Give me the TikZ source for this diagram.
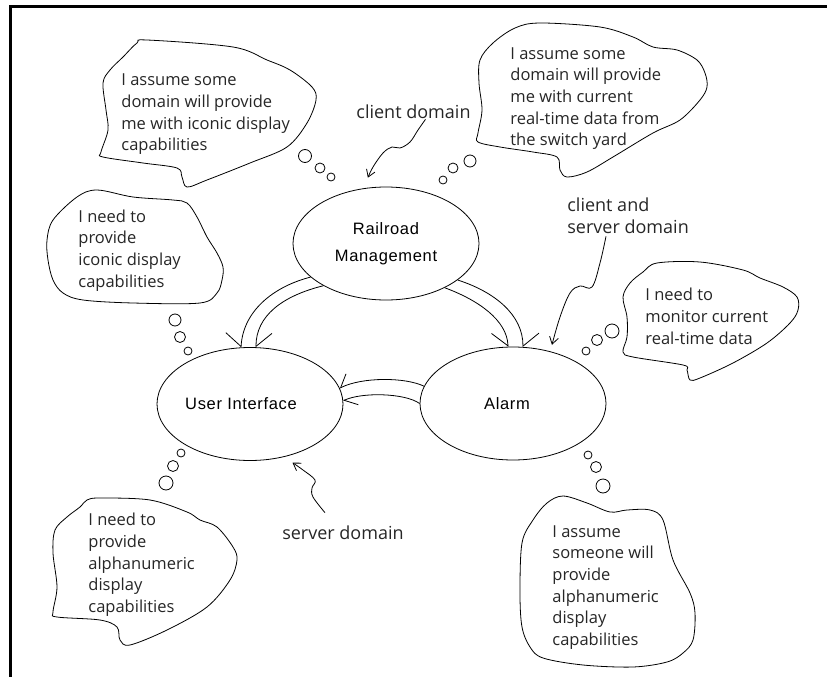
\documentclass[tikz,border=0pt]{standalone}
\usepackage{fontspec}
\usetikzlibrary{arrows.meta,shapes.geometric}
\newfontfamily\bubfont{Open Sans}
\newfontfamily\domfont{Liberation Sans}[LetterSpace=4.0]
\begin{document}
\begin{tikzpicture}[x=1pt,y=-1pt,line width=0.8pt,
  dombox/.style={ellipse,draw,minimum width=186pt,minimum height=113pt,inner sep=0pt,
    font=\domfont\fontsize{16.5}{27}\selectfont},
  thought/.style={font=\bubfont\fontsize{16.5}{21.7}\selectfont,align=left,anchor=west,
    inner sep=0pt,text=black!85},
  note/.style={font=\bubfont\fontsize{18}{22}\selectfont,inner sep=0pt,text=black!85},
  pointer/.style={-{Straight Barb[length=7pt,width=9pt]}},
  bigL/.style={-{Straight Barb[left,length=13pt,width=32pt]}},
  bigR/.style={-{Straight Barb[right,length=13pt,width=32pt]}},
  smallL/.style={-{Straight Barb[left,length=11pt,width=20pt]}},
  smallR/.style={-{Straight Barb[right,length=11pt,width=20pt]}},
  bubbleline/.style={line width=0.8pt},
]
\useasboundingbox (0,0) rectangle (827,677);
% frame
\draw[line width=3pt] (10,677) -- (10,7) -- (827,7);

% domains
\node[dombox,align=center] (rm) at (386,243.5) {Railroad\\Management};
\node[dombox] (ui) at (250,404) {\hspace*{-18pt}User Interface};
\node[dombox] (al) at (513,403.5) {\hspace*{-12pt}Alarm};

% bridges
\draw[bigR] (rm.204) .. controls (272,287) and (243,312) .. (ui.99);
\draw[bigL] (rm.214) .. controls (282,296) and (256,316) .. (ui.84);
\draw[bigL] (rm.333) .. controls (495,292) and (523,315) .. (al.80);
\draw[bigR] (rm.323) .. controls (478,300) and (507,320) .. (al.95);
\draw[smallR] (al.169) .. controls (405,377) and (362,377) .. (ui.10);
\draw[smallL] (al.180) .. controls (405,393) and (362,392) .. (ui.2);

% thought bubbles
\draw[bubbleline] plot[smooth cycle,tension=0.55] coordinates {(137,43) (147,40) (233,47) (267,60) (290,70) (312,87) (316,100) (307,123) (287,147) (250,163) (207,180) (187,187) (182,177) (177,168) (143,163) (103,157) (101,152) (108,130) (106,110) (103,83) (110,70) (123,57)};
\node[thought] (t1) at (121,114.5) {I assume some\\domain will provide\\me with iconic display\\capabilities};

\draw[bubbleline] plot[smooth cycle,tension=0.55] coordinates {(515,28) (540,23) (600,27) (633,37) (653,47) (677,50) (697,60) (705,73) (707,87) (700,100) (680,120) (653,133) (613,157) (587,172) (567,177) (560,170) (557,157) (533,152) (500,147) (478,142) (478,133) (482,110) (479,83) (480,60) (493,43)};
\node[thought] (t2) at (510,98.5) {I assume some\\domain will provide\\me with current\\real-time data from\\the switch yard};

\draw[bubbleline] plot[smooth cycle,tension=0.55] coordinates {(53,220) (77,197) (97,190) (133,197) (173,200) (187,203) (197,217) (207,237) (217,253) (223,267) (222,280) (217,293) (200,303) (133,303) (83,300) (63,293) (53,280) (48,260) (47,240)};
\node[thought] (t3) at (78,250.5) {I need to\\provide\\iconic display\\capabilities};

\draw[bubbleline] plot[smooth cycle,tension=0.55] coordinates {(657,263) (700,262) (743,270) (760,278) (783,287) (797,297) (798,310) (790,323) (767,343) (733,363) (700,378) (690,380) (687,370) (683,365) (633,357) (623,352) (627,337) (627,317) (623,297) (630,283) (643,272)};
\node[thought] (t4) at (645,316.5) {I need to\\monitor current\\real-time data};

\draw[bubbleline] plot[smooth cycle,tension=0.55] coordinates {(87,500) (100,498) (150,500) (187,512) (200,520) (217,527) (233,547) (237,560) (230,580) (207,607) (167,630) (130,645) (120,640) (117,627) (100,620) (57,617) (53,612) (57,587) (53,553) (55,530) (67,517) (80,507)};
\node[thought] (t5) at (88,565) {I need to\\provide\\alphanumeric\\display\\capabilities};

\draw[bubbleline] plot[smooth cycle,tension=0.55] coordinates {(547,503) (563,496) (587,503) (610,512) (627,510) (650,510) (663,520) (673,560) (690,593) (695,613) (693,640) (683,653) (667,662) (633,667) (583,665) (543,658) (530,647) (522,627) (520,593) (522,543) (533,520)};
\node[thought] (t6) at (552,587.5) {I assume\\someone will\\provide\\alphanumeric\\display\\capabilities};

% bubble trails
\draw[bubbleline] (305,156) circle[radius=6.5pt] (320,168) circle[radius=5pt] (331,177) circle[radius=4pt];
\draw[bubbleline] (470,161) circle[radius=6pt] (453,168) circle[radius=5pt] (443,180) circle[radius=4pt];
\draw[bubbleline] (175,320) circle[radius=6pt] (180,337) circle[radius=5.5pt] (188,351) circle[radius=4pt];
\draw[bubbleline] (612,331) circle[radius=7pt] (597,340) circle[radius=5.5pt] (586,351) circle[radius=4pt];
\draw[bubbleline] (166,483) circle[radius=7pt] (173,466) circle[radius=5.5pt] (181,453) circle[radius=4pt];
\draw[bubbleline] (588,455) circle[radius=4pt] (596,467) circle[radius=5.5pt] (603,486) circle[radius=7pt];

% role labels
\node[note] (cd) at (413.5,112) {client domain};
\node[note,align=left,anchor=west] (csd) at (567,216) {client and\\server domain};
\node[note] (sd) at (343,533) {server domain};

\draw[pointer] plot[smooth,tension=0.6] coordinates {([xshift=12pt]cd.south) (418,130) (410,142) (400,148) (392,147) (383,153) (373,167) ([yshift=10pt]rm.108)};
\draw[pointer] plot[smooth,tension=0.6] coordinates {([xshift=39pt,yshift=-2pt]csd.south west) (600,263) (592,287) (580,286) (570,293) (560,317) ([yshift=7pt]al.53)};
\draw[pointer] plot[smooth,tension=0.6] coordinates {([xshift=-18pt,yshift=13pt]sd.north) (313,497) (312,488) (315,480) (303,470) ([yshift=-8pt]ui.310)};
\end{tikzpicture}
\end{document}
